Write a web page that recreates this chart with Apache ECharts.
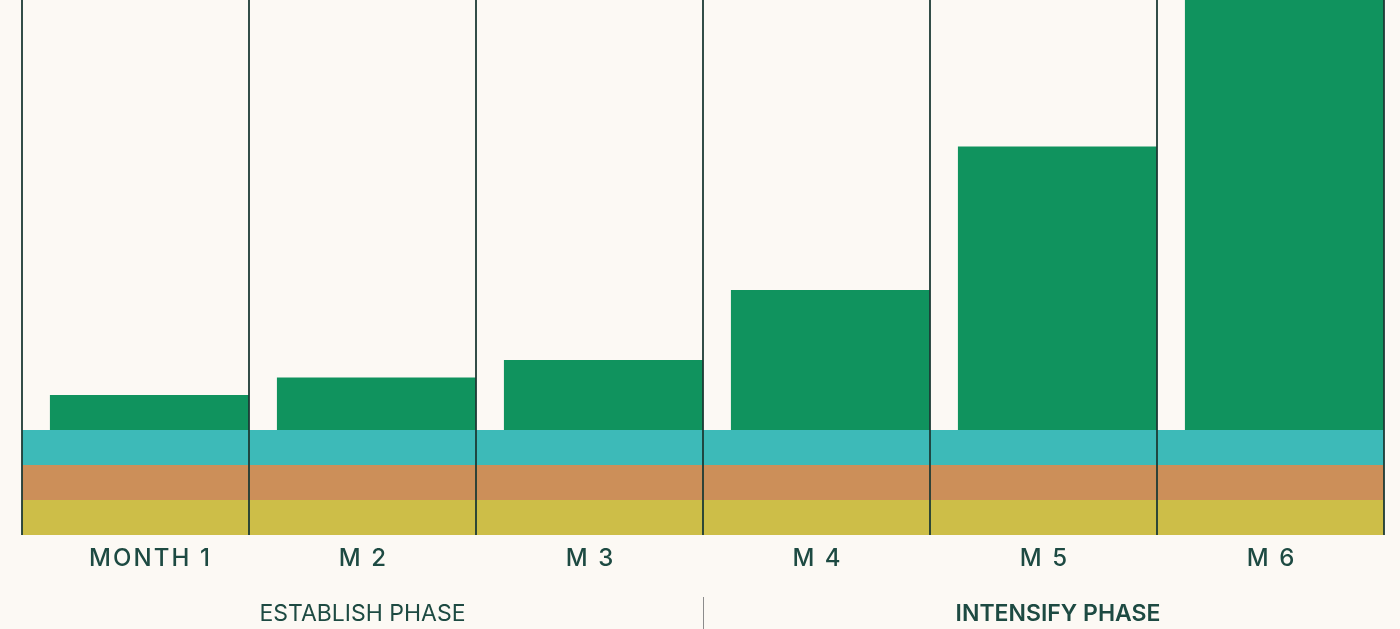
<!DOCTYPE html>
<html>
<head>
<meta charset="utf-8">
<script src="https://cdn.jsdelivr.net/npm/echarts@6/dist/echarts.min.js"></script>
<style>
  html, body { margin: 0; padding: 0; background: #fcf9f4; }
  #chart { width: 1400px; height: 629px; }
</style>
</head>
<body>
<div id="chart"></div>
<script>
// data
const months = ['MONTH 1', 'M 2', 'M 3', 'M 4', 'M 5', 'M 6']
const phases = ['ESTABLISH PHASE', 'INTENSIFY PHASE']
const yellowBand = [10, 10, 10, 10, 10, 10]
const orangeBand = [10, 10, 10, 10, 10, 10]
const tealBand = [10, 10, 10, 10, 10, 10]
const growth = [10, 15, 20, 40, 81, 160]

const ink = '#1d4a42'
const lineColor = '#1c3a35'
// base under the green bars = sum of the three bands
const baseTotal = months.map((m, i) => yellowBand[i] + orangeBand[i] + tealBand[i])

// spread letters a bit (no letterSpacing in zrender)
const spaced = s => s.split('').join('\u200A')

const greenWidth = 0.877 // share of the month column

let myChart = echarts.init(document.getElementById('chart'), null, { renderer: 'canvas' })

const bandSeries = (name, data, color) => ({
  name,
  type: 'bar',
  stack: 'base',
  data,
  barWidth: '100%',
  barGap: (-greenWidth * 100) + '%',
  itemStyle: { color },
  silent: true
})

myChart.setOption({
  backgroundColor: '#fcf9f4',
  animation: false,
  grid: [
    { left: 22, right: 16, top: 0, bottom: 94 },
    { left: 22, right: 16, top: 597, height: 32 }
  ],
  xAxis: [
    {
      type: 'category',
      gridIndex: 0,
      data: months.map((m, i) => ({
        value: m,
        textStyle: i === 0 ? { padding: [0, 0, 0, 28] } : {}
      })),
      z: 10,
      axisLine: { show: false },
      axisTick: { show: false },
      splitLine: { show: true, lineStyle: { color: lineColor, width: 1.8 } },
      axisLabel: {
        formatter: v => spaced(v),
        color: ink,
        fontFamily: 'Inter',
        fontWeight: 500,
        fontSize: 24,
        margin: 12
      }
    },
    {
      type: 'category',
      gridIndex: 1,
      position: 'top',
      data: phases.map((p, i) => ({
        value: p,
        textStyle: i === 1 ? { fontWeight: 600, padding: [0, 0, 0, 29] } : {}
      })),
      axisLine: { show: false },
      axisTick: { show: false },
      splitLine: { show: true, showMinLine: false, showMaxLine: false, lineStyle: { color: '#8c8c8c', width: 1 } },
      axisLabel: {
        inside: true,
        color: ink,
        fontFamily: 'Inter',
        fontWeight: 400,
        fontSize: 23,
        margin: 6
      }
    }
  ],
  yAxis: [
    { type: 'value', gridIndex: 0, min: 0, max: 535 / 3.5, show: false },
    { type: 'value', gridIndex: 1, show: false }
  ],
  series: [
    bandSeries('yellow', yellowBand, '#cdbe48'),
    bandSeries('orange', orangeBand, '#cc8f59'),
    bandSeries('teal', tealBand, '#3dbab8'),
    {
      name: 'base',
      type: 'bar',
      stack: 'top',
      data: baseTotal,
      barWidth: (greenWidth * 100) + '%',
      barGap: (-greenWidth * 100) + '%',
      itemStyle: { color: 'rgba(0,0,0,0)' },
      silent: true
    },
    {
      name: 'growth',
      type: 'bar',
      stack: 'top',
      data: growth,
      barWidth: (greenWidth * 100) + '%',
      barGap: (-greenWidth * 100) + '%',
      itemStyle: { color: '#10935e' },
      silent: true
    }
  ]
})
</script>
</body>
</html>
